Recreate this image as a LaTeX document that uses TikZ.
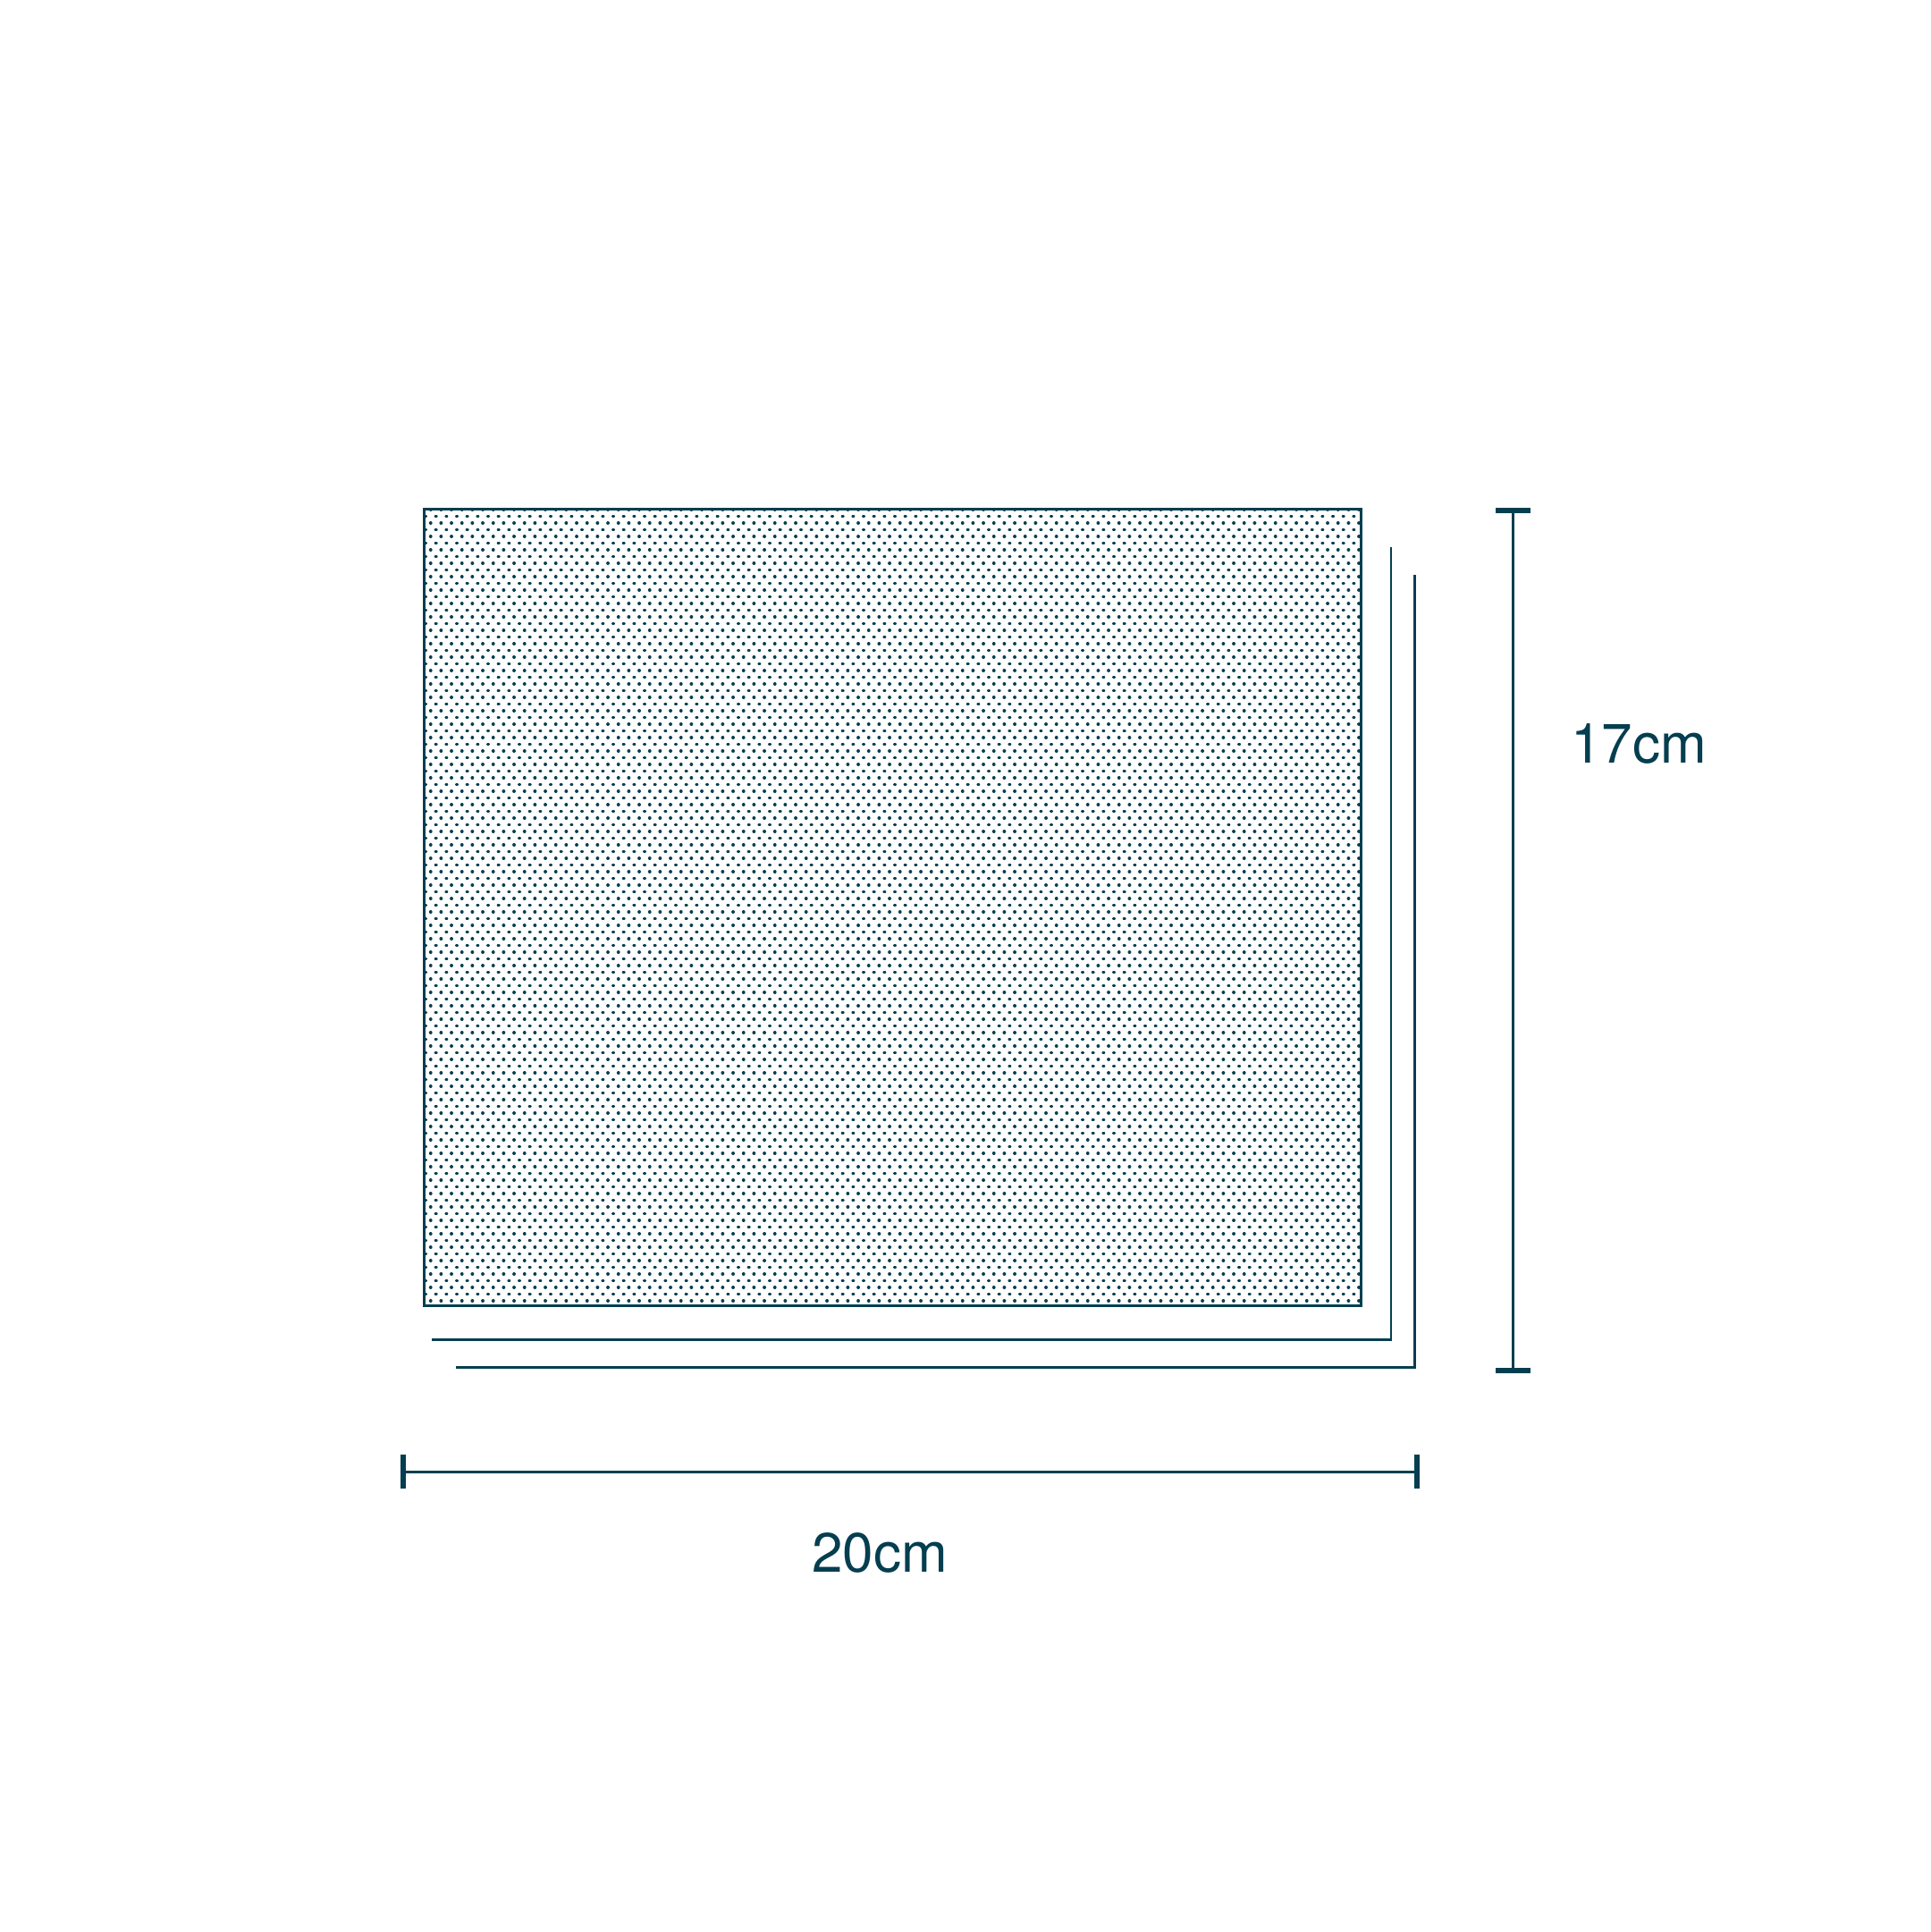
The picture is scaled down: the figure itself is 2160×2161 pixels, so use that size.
\documentclass[tikz,border=0pt]{standalone}
\usepackage{fontspec}
\setmainfont{TeX Gyre Heros}
\definecolor{ink}{RGB}{4,62,80}
\tikzset{
  sheet/.style={draw=ink,line width=2.7pt},
  edge/.style={draw=ink,line width=2.6pt},
  dimline/.style={draw=ink,line width=3pt},
  dimcap/.style={draw=ink,line width=6pt},
  dotrow/.style={draw=ink,line width=3.9pt,line cap=round,dash pattern=on 0.01pt off 11.657pt},
  lbl/.style={text=ink,font=\fontsize{62}{70}\selectfont,inner sep=0pt}
}
\begin{document}
\begin{tikzpicture}[x=1pt,y=-1pt]
\useasboundingbox[fill=white] (0,0) rectangle (2160,2161);
% back sheets
\coordinate (s3t) at (1582.3,642.7);
\coordinate (s3c) at (1582.3,1529.7);
\coordinate (s3l) at (510,1529.7);
\draw[edge] (s3t) -- (s3c) -- (s3l);
\coordinate (s2t) at (1556,611.7);
\coordinate (s2c) at (1556,1498.7);
\coordinate (s2l) at (483.3,1498.7);
\draw[edge] (s2t) -- (s2c) -- (s2l);
% front sheet with dots
\begin{scope}
\clip (473.3,568.3) rectangle (1521,1459.3);
\foreach \r in {0,...,59} {
  \draw[dotrow] (481.7, 570+15*\r) -- (1530, 570+15*\r);
  \draw[dotrow] (476, 577.5+15*\r) -- (1530, 577.5+15*\r);
}
\end{scope}
\node[sheet,minimum width=1047.7pt,minimum height=891pt,inner sep=0pt,anchor=north west] (front) at (473.3,568.3) {};
% vertical dimension
\coordinate (vt) at (1692.3,571);
\coordinate (vb) at (1692.3,1533.3);
\draw[dimline] (vt) -- (vb);
\coordinate (vtl) at (1673.3,571);
\coordinate (vtr) at (1712.3,571);
\coordinate (vbl) at (1673.3,1533.3);
\coordinate (vbr) at (1712.3,1533.3);
\draw[dimcap] (vtl) -- (vtr);
\draw[dimcap] (vbl) -- (vbr);
\node[lbl,anchor=base west] (h) at (1757,853) {17cm};
% horizontal dimension
\coordinate (hl) at (450.7,1646);
\coordinate (hr) at (1585.3,1646);
\draw[dimline] (hl) -- (hr);
\coordinate (hlt) at (450.7,1627);
\coordinate (hlb) at (450.7,1665);
\coordinate (hrt) at (1585.3,1627);
\coordinate (hrb) at (1585.3,1665);
\draw[dimcap] (hlt) -- (hlb);
\draw[dimcap] (hrt) -- (hrb);
\node[lbl,anchor=base] (w) at (984,1758) {20cm};
\end{tikzpicture}
\end{document}
